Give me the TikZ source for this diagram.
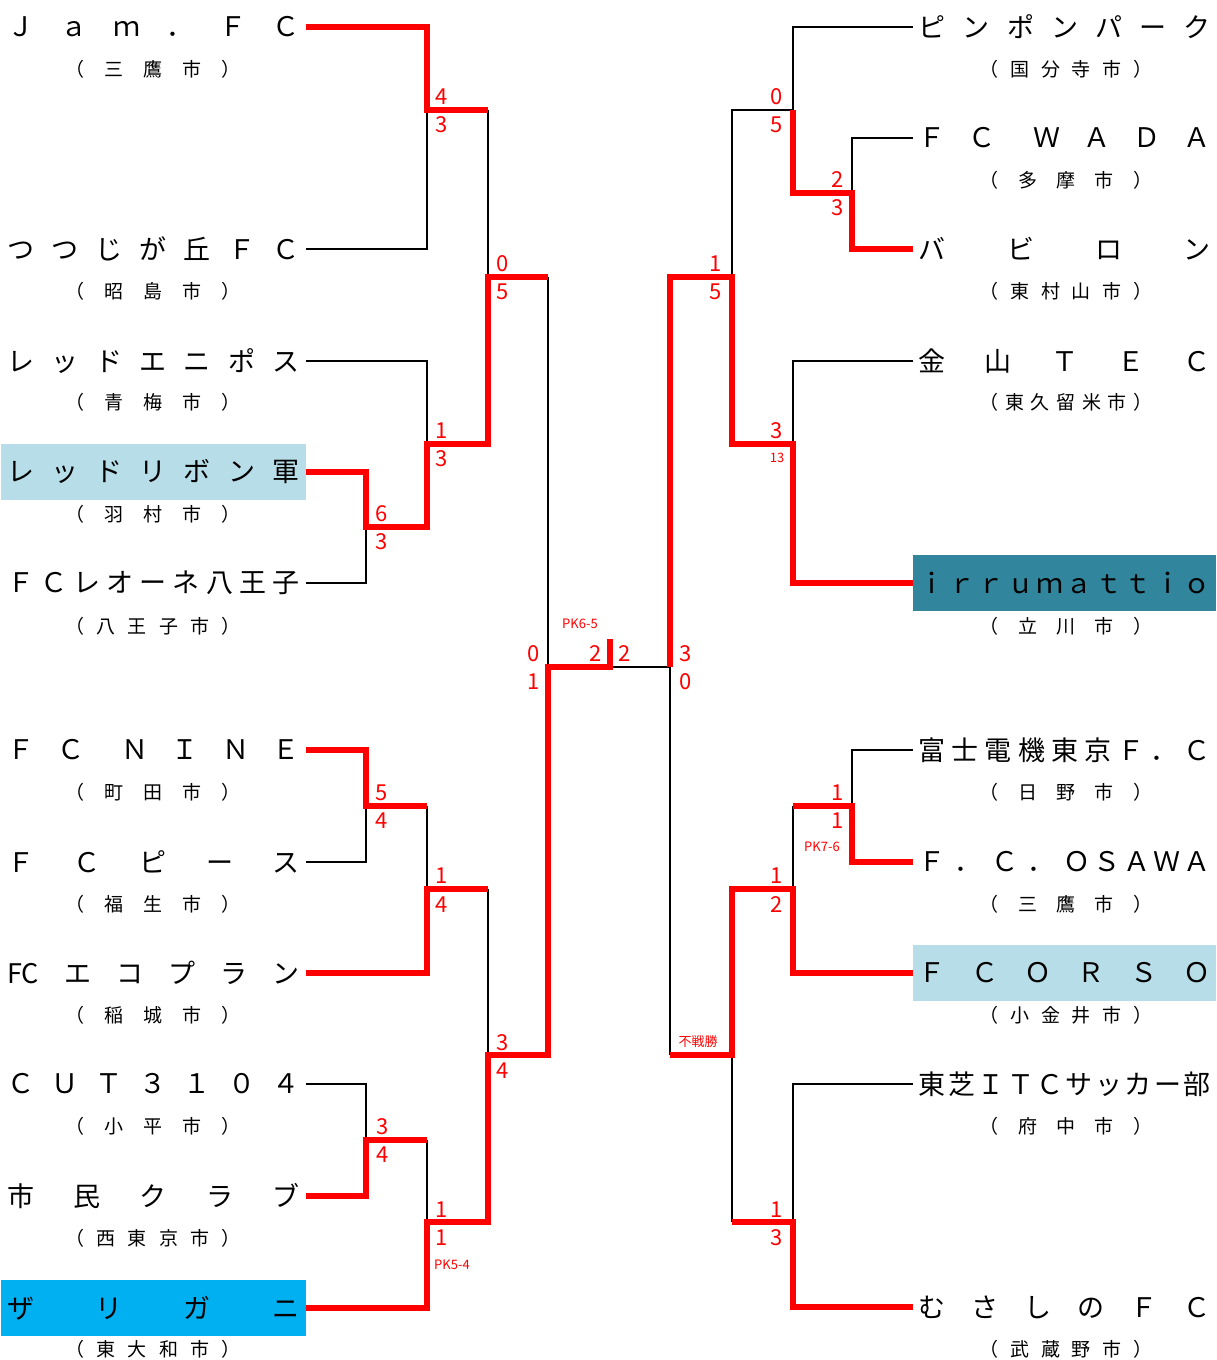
\documentclass[tikz,border=0pt]{standalone}
\usepackage{fontspec}
\newfontfamily\jp{Noto Sans CJK JP}
\definecolor{winred}{RGB}{255,0,0}
\definecolor{lightbl}{RGB}{183,221,232}
\definecolor{skybl}{RGB}{0,176,240}
\definecolor{tealbl}{RGB}{49,133,156}
\newcommand\sps{\hfill}
\newcommand\LT[1]{\makebox[292pt][s]{#1}}
\newcommand\LC[1]{\makebox[176pt][s]{#1}}
\newcommand\RC[1]{\makebox[173pt][s]{#1}}
\tikzset{
  lose/.style={line width=2.6pt, black, line join=miter},
  win/.style={line width=6pt, winred, line join=miter, line cap=butt},
  teambox/.style={minimum height=56pt, inner sep=0pt, font=\jp\fontsize{27}{27}\selectfont},
  lteam/.style={teambox, anchor=east, minimum width=305pt},
  rteam/.style={teambox, anchor=west, minimum width=303pt},
  city/.style={inner sep=0pt, font=\jp\fontsize{19}{19}\selectfont},
  score/.style={inner sep=0pt, text=winred, font=\jp\fontsize{22}{22}\selectfont},
  note/.style={inner sep=0pt, text=winred, font=\jp\fontsize{13}{13}\selectfont},
}
\begin{document}
\begin{tikzpicture}[x=1pt,y=-1pt]
\useasboundingbox (0,0) rectangle (1216,1360);
% ---------- left teams ----------
\node[lteam] (L1) at (306,27) {\LT{Ｊ\sps ａ\sps ｍ\sps ．\sps Ｆ\sps Ｃ}};
\node[lteam] (L2) at (306,249) {\LT{つ\sps つ\sps じ\sps が\sps 丘\sps Ｆ\sps Ｃ}};
\node[lteam] (L3) at (306,361) {\LT{レ\sps ッ\sps ド\sps エ\sps ニ\sps ポ\sps ス}};
\node[lteam, fill=lightbl] (L4) at (306,472) {\LT{レ\sps ッ\sps ド\sps リ\sps ボ\sps ン\sps 軍}};
\node[lteam] (L5) at (306,583) {\LT{Ｆ\sps Ｃ\sps レ\sps オ\sps ー\sps ネ\sps 八\sps 王\sps 子}};
\node[lteam] (L6) at (306,750) {\LT{Ｆ\sps Ｃ\sps\hskip 0pt plus 0.6fill Ｎ\sps Ｉ\sps Ｎ\sps Ｅ}};
\node[lteam] (L7) at (306,862) {\LT{Ｆ\sps Ｃ\sps ピ\sps ー\sps ス}};
\node[lteam] (L8) at (306,973) {\LT{FC\sps エ\sps コ\sps プ\sps ラ\sps ン}};
\node[lteam] (L9) at (306,1084) {\LT{Ｃ\sps Ｕ\sps Ｔ\sps ３\sps １\sps ０\sps ４}};
\node[lteam] (L10) at (306,1196) {\LT{市\sps 民\sps ク\sps ラ\sps ブ}};
\node[lteam, fill=skybl] (L11) at (306,1308) {\LT{ザ\sps リ\sps ガ\sps ニ}};
% left cities
\node[city] (cL1) at (153,69) {\LC{（\sps 三\sps 鷹\sps 市\sps ）}};
\node[city] (cL2) at (153,291) {\LC{（\sps 昭\sps 島\sps 市\sps ）}};
\node[city] (cL3) at (153,402) {\LC{（\sps 青\sps 梅\sps 市\sps ）}};
\node[city] (cL4) at (153,514) {\LC{（\sps 羽\sps 村\sps 市\sps ）}};
\node[city] (cL5) at (153,626) {\LC{（\sps 八\sps 王\sps 子\sps 市\sps ）}};
\node[city] (cL6) at (153,792) {\LC{（\sps 町\sps 田\sps 市\sps ）}};
\node[city] (cL7) at (153,904) {\LC{（\sps 福\sps 生\sps 市\sps ）}};
\node[city] (cL8) at (153,1015) {\LC{（\sps 稲\sps 城\sps 市\sps ）}};
\node[city] (cL9) at (153,1126) {\LC{（\sps 小\sps 平\sps 市\sps ）}};
\node[city] (cL10) at (153,1238) {\LC{（\sps 西\sps 東\sps 京\sps 市\sps ）}};
\node[city] (cL11) at (153,1349) {\LC{（\sps 東\sps 大\sps 和\sps 市\sps ）}};
% ---------- right teams ----------
\node[rteam] (R1) at (913,27) {\LT{ピ\sps ン\sps ポ\sps ン\sps パ\sps ー\sps ク}};
\node[rteam] (R2) at (913,138) {\LT{Ｆ\sps Ｃ\sps\hskip 0pt plus 0.6fill Ｗ\sps Ａ\sps Ｄ\sps Ａ}};
\node[rteam] (R3) at (913,249) {\LT{バ\sps ビ\sps ロ\sps ン}};
\node[rteam] (R4) at (913,361) {\LT{金\sps 山\sps Ｔ\sps Ｅ\sps Ｃ}};
\node[rteam, fill=tealbl] (R5) at (913,583) {\LT{ｉ\sps ｒ\sps ｒ\sps ｕ\sps ｍ\sps ａ\sps ｔ\sps ｔ\sps ｉ\sps ｏ}};
\node[rteam] (R6) at (913,750) {\LT{富\sps 士\sps 電\sps 機\sps 東\sps 京\sps Ｆ\sps ．\sps Ｃ}};
\node[rteam] (R7) at (913,862) {\LT{Ｆ\sps ．\sps Ｃ\sps ．\sps Ｏ\hskip 3pt Ｓ\hskip 3pt Ａ\hskip 3pt Ｗ\hskip 3pt Ａ}};
\node[rteam, fill=lightbl] (R8) at (913,973) {\LT{Ｆ\sps Ｃ\sps Ｏ\sps Ｒ\sps Ｓ\sps Ｏ}};
\node[rteam] (R9) at (913,1084) {\LT{東\sps 芝\sps Ｉ\sps Ｔ\sps Ｃ\sps サ\sps ッ\sps カ\sps ー\sps 部}};
\node[rteam] (R10) at (913,1307) {\LT{む\sps さ\sps し\sps の\sps Ｆ\sps Ｃ}};
% right cities
\node[city] (cR1) at (1066,69) {\RC{（\sps 国\sps 分\sps 寺\sps 市\sps ）}};
\node[city] (cR2) at (1066,180) {\RC{（\sps 多\sps 摩\sps 市\sps ）}};
\node[city] (cR3) at (1066,291) {\RC{（\sps 東\sps 村\sps 山\sps 市\sps ）}};
\node[city] (cR4) at (1066,402) {\RC{（\sps 東\sps 久\sps 留\sps 米\sps 市\sps ）}};
\node[city] (cR5) at (1066,626) {\RC{（\sps 立\sps 川\sps 市\sps ）}};
\node[city] (cR6) at (1066,792) {\RC{（\sps 日\sps 野\sps 市\sps ）}};
\node[city] (cR7) at (1066,904) {\RC{（\sps 三\sps 鷹\sps 市\sps ）}};
\node[city] (cR8) at (1066,1015) {\RC{（\sps 小\sps 金\sps 井\sps 市\sps ）}};
\node[city] (cR9) at (1066,1126) {\RC{（\sps 府\sps 中\sps 市\sps ）}};
\node[city] (cR10) at (1066,1349) {\RC{（\sps 武\sps 蔵\sps 野\sps 市\sps ）}};
% ---------- junction coordinates ----------
\coordinate (j1) at (427,110);  \coordinate (j1o) at (488,110);
\coordinate (j2) at (366,527);  \coordinate (j2o) at (427,527);
\coordinate (j3) at (427,444);  \coordinate (j3o) at (488,444);
\coordinate (j4) at (488,277);  \coordinate (j4o) at (548,277);
\coordinate (j5) at (366,806);  \coordinate (j5o) at (427,806);
\coordinate (j6) at (427,889);  \coordinate (j6o) at (488,889);
\coordinate (j7) at (366,1140); \coordinate (j7o) at (427,1140);
\coordinate (j8) at (427,1222); \coordinate (j8o) at (488,1222);
\coordinate (j9) at (488,1055); \coordinate (j9o) at (548,1055);
\coordinate (j10) at (548,667);
\coordinate (fin) at (610,667); \coordinate (champ) at (610,639);
\coordinate (j11) at (670,667);
\coordinate (r1) at (852,193);  \coordinate (r1o) at (793,193);
\coordinate (r2) at (793,110);  \coordinate (r2o) at (732,110);
\coordinate (r3) at (793,444);  \coordinate (r3o) at (732,444);
\coordinate (r4) at (732,277);  \coordinate (r4o) at (670,277);
\coordinate (r5) at (852,806);  \coordinate (r5o) at (793,806);
\coordinate (r6) at (793,889);  \coordinate (r6o) at (732,889);
\coordinate (r7) at (793,1222); \coordinate (r7o) at (732,1222);
\coordinate (r8) at (732,1055); \coordinate (r8o) at (670,1055);
% ---------- losing (black) lines ----------
\draw[lose] (L2.east) -| (j1);
\draw[lose] (j1o) -- (j4);
\draw[lose] (L3.east) -| (j3);
\draw[lose] (L5.east) -| (j2);
\draw[lose] (j4o) -- (j10);
\draw[lose] (L7.east) -| (j5);
\draw[lose] (j5o) -- (j6);
\draw[lose] (j6o) -- (j9);
\draw[lose] (L9.east) -| (j7);
\draw[lose] (j7o) -- (j8);
\draw[lose] (fin) -- (j11);
\draw[lose] (R1.west) -| (r2) -- (r2o) -- (r4);
\draw[lose] (R2.west) -| (r1);
\draw[lose] (R4.west) -| (r3);
\draw[lose] (R6.west) -| (r5);
\draw[lose] (r5o) -- (r6);
\draw[lose] (R9.west) -| (r7);
\draw[lose] (r7o) -- (r8);
\draw[lose] (r8o) -- (j11);
% ---------- winning (red) lines ----------
\draw[win] (L1.east) -| (j1) -- (j1o);
\draw[win] (L4.east) -| (j2) -- (j2o) -- (j3) -- (j3o) -- (j4) -- (j4o);
\draw[win] (L6.east) -| (j5) -- (j5o);
\draw[win] (L8.east) -| (j6) -- (j6o);
\draw[win] (L10.east) -| (j7) -- (j7o);
\draw[win] (L11.east) -| (j8) -- (j8o) -- (j9) -- (j9o) -- (j10) -- (fin) -- (champ);
\draw[win] (R3.west) -| (r1) -- (r1o) -- (r2);
\draw[win] (R5.west) -| (r3) -- (r3o) -- (r4) -- (r4o) -- (j11);
\draw[win] (R7.west) -| (r5) -- (r5o);
\draw[win] (R8.west) -| (r6) -- (r6o) -- (r8) -- (r8o);
\draw[win] (R10.west) -| (r7) -- (r7o);
% ---------- scores ----------
\node[score] (s1a) at (442,97) {4};   \node[score] (s1b) at (442,125) {3};
\node[score] (s2a) at (382,514) {6};  \node[score] (s2b) at (382,542) {3};
\node[score] (s3a) at (442,431) {1};  \node[score] (s3b) at (442,459) {3};
\node[score] (s4a) at (503,264) {0};  \node[score] (s4b) at (503,292) {5};
\node[score] (s5a) at (382,793) {5};  \node[score] (s5b) at (382,821) {4};
\node[score] (s6a) at (442,876) {1};  \node[score] (s6b) at (442,905) {4};
\node[score] (s7a) at (383,1127) {3}; \node[score] (s7b) at (383,1155) {4};
\node[score] (s8a) at (442,1210) {1}; \node[score] (s8b) at (442,1238) {1};
\node[note] (pk1) at (452,1265) {PK5-4};
\node[score] (s9a) at (503,1043) {3}; \node[score] (s9b) at (503,1071) {4};
\node[score] (s10a) at (534,654) {0}; \node[score] (s10b) at (534,682) {1};
\node[score] (sfa) at (596,654) {2};  \node[score] (sfb) at (625,654) {2};
\node[note] (pkf) at (580,624) {PK6-5};
\node[score] (s11a) at (686,654) {3}; \node[score] (s11b) at (686,682) {0};
\node[score] (t1a) at (777,97) {0};   \node[score] (t1b) at (777,125) {5};
\node[score] (t2a) at (838,180) {2};  \node[score] (t2b) at (838,208) {3};
\node[score] (t3a) at (716,264) {1};  \node[score] (t3b) at (716,292) {5};
\node[score] (t4a) at (777,431) {3};  \node[note] (t4b) at (777,458) {13};
\node[score] (t5a) at (838,793) {1};  \node[score] (t5b) at (838,821) {1};
\node[note] (pk2) at (822,847) {PK7-6};
\node[score] (t6a) at (777,876) {1};  \node[score] (t6b) at (777,905) {2};
\node[note] (fs) at (698,1042) {不戦勝};
\node[score] (t7a) at (777,1210) {1}; \node[score] (t7b) at (777,1238) {3};
\end{tikzpicture}
\end{document}
